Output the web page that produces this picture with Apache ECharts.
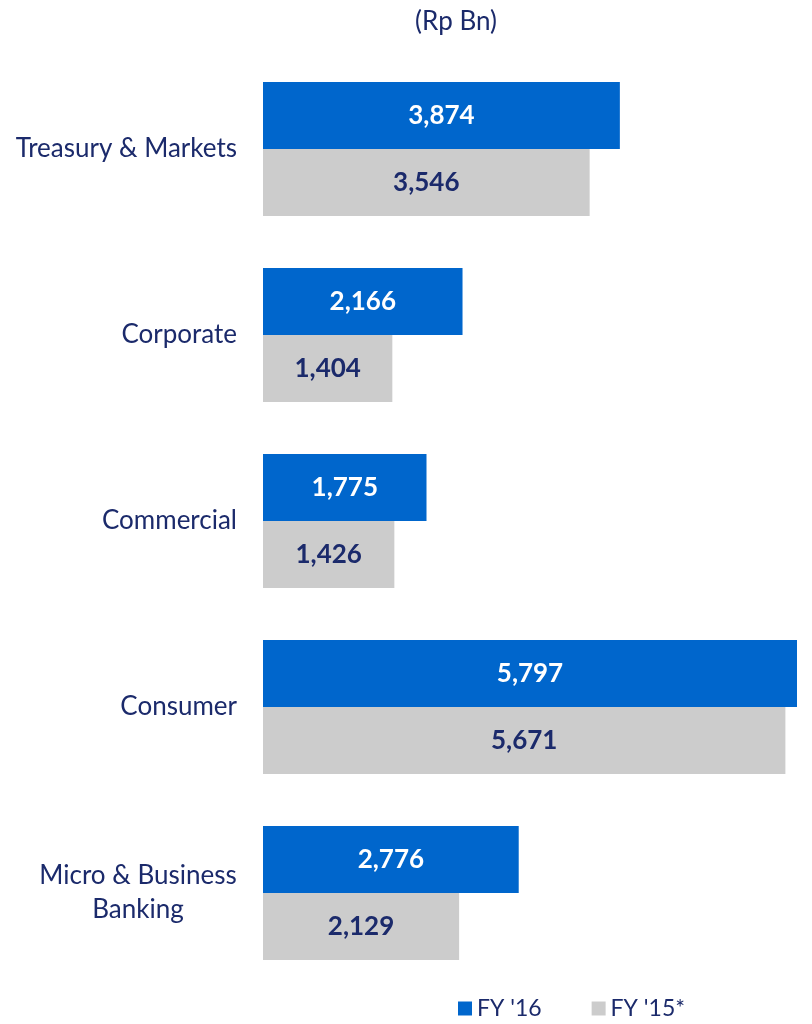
<!DOCTYPE html>
<html>
<head>
<meta charset="utf-8">
<script src="https://cdn.jsdelivr.net/npm/echarts@6/dist/echarts.min.js"></script>
<style>
  html, body { margin: 0; padding: 0; background: #fff; }
  #chart { width: 812px; height: 1024px; }
</style>
</head>
<body>
<div id="chart"></div>
<script>
// segments, top to bottom
const categories = ['Treasury & Markets', 'Corporate', 'Commercial', 'Consumer', 'Micro & Business\nBanking'];
const fy16 = [3874, 2166, 1775, 5797, 2776];
const fy15 = [3546, 1404, 1426, 5671, 2129];

const navy = '#1B2A6B';
const font = 'Lato';

var chart = echarts.init(document.getElementById('chart'));

var option = {
  animation: false,
  title: {
    text: '(Rp Bn)',
    left: 451,
    textAlign: 'center',
    top: 4,
    textStyle: { fontFamily: font, fontSize: 26, fontWeight: 'normal', color: navy }
  },
  legend: {
    data: ["FY '16", "FY '15*"],
    left: 453,
    top: 992,
    itemWidth: 14,
    itemHeight: 14,
    itemGap: 50,
    icon: 'rect',
    textStyle: { fontFamily: font, fontSize: 23, color: navy }
  },
  grid: { left: 263, right: 15, top: 56, bottom: 38, containLabel: false },
  xAxis: {
    type: 'value',
    min: 0,
    max: 5797,
    show: false
  },
  yAxis: {
    type: 'category',
    data: categories,
    inverse: true,
    axisLine: { show: false },
    axisTick: { show: false },
    axisLabel: {
      fontFamily: font,
      fontSize: 26,
      color: navy,
      margin: 26,
      align: 'right',
      lineHeight: 34,
      // multi-line label is centred within its own block
      formatter: function (v) {
        if (v.indexOf('\n') < 0) return v;
        return v.split('\n').map(s => '{c|' + s + '}').join('\n');
      },
      rich: {
        c: { fontFamily: font, fontSize: 26, color: navy, width: 198, align: 'center', lineHeight: 34 }
      }
    }
  },
  series: [
    {
      name: "FY '16",
      type: 'bar',
      data: fy16,
      barWidth: 67,
      barGap: '0%',
      itemStyle: { color: '#0066CC' },
      label: {
        show: true,
        position: 'inside',
        fontFamily: font,
        fontSize: 26,
        fontWeight: 'bold',
        color: '#ffffff',
        formatter: p => p.value.toLocaleString('en-US')
      }
    },
    {
      name: "FY '15*",
      type: 'bar',
      data: fy15,
      barWidth: 67,
      itemStyle: { color: '#CCCCCC' },
      label: {
        show: true,
        position: 'inside',
        fontFamily: font,
        fontSize: 26,
        fontWeight: 'bold',
        color: navy,
        formatter: p => p.value.toLocaleString('en-US')
      }
    }
  ]
};

chart.setOption(option);
</script>
</body>
</html>
